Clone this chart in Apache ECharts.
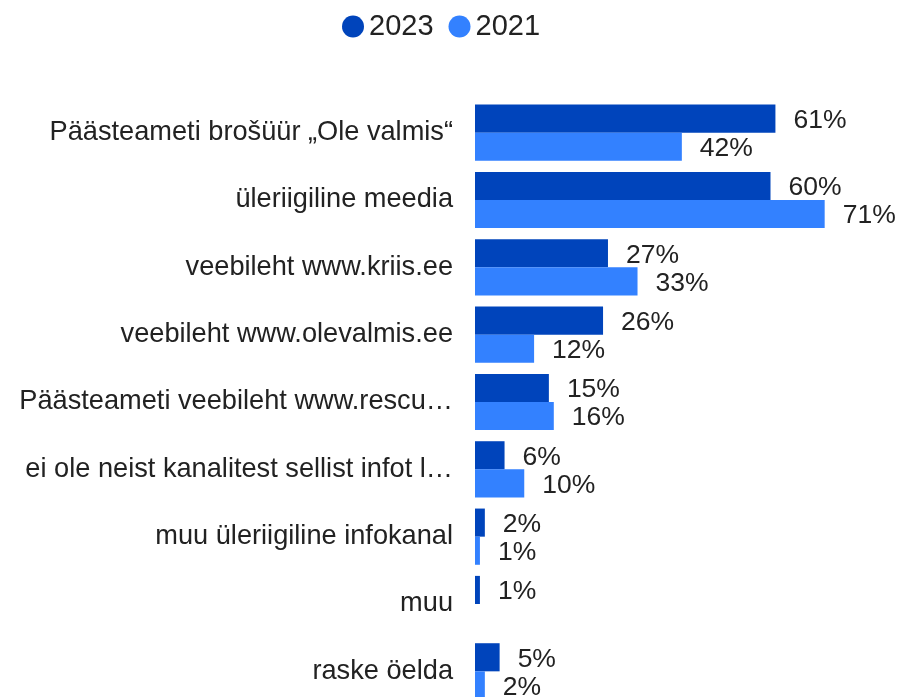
<!DOCTYPE html>
<html>
<head>
<meta charset="utf-8">
<script src="https://cdn.jsdelivr.net/npm/echarts@6/dist/echarts.min.js"></script>
<style>
html,body{margin:0;padding:0;background:#fff;overflow:hidden;}
#chart{width:902px;height:712px;}
</style>
</head>
<body>
<div id="chart"></div>
<script>
const categories = [
  "Päästeameti brošüür „Ole valmis“",
  "üleriigiline meedia",
  "veebileht www.kriis.ee",
  "veebileht www.olevalmis.ee",
  "Päästeameti veebileht www.rescu…",
  "ei ole neist kanalitest sellist infot l…",
  "muu üleriigiline infokanal",
  "muu",
  "raske öelda"
];
const seriesNames = ["2023", "2021"];
const values2023 = [61, 60, 27, 26, 15, 6, 2, 1, 5];
const values2021 = [42, 71, 33, 12, 16, 10, 1, null, 2];

const FONT = "'Liberation Sans', Arial, sans-serif";
const chart = echarts.init(document.getElementById('chart'));
const labelCfg = {
  show: true,
  position: 'right',
  distance: 18,
  offset: [0, 2],
  formatter: '{c}%',
  color: '#222',
  fontSize: 26.5,
  fontFamily: FONT
};
chart.setOption({
  animation: false,
  legend: {
    top: 7,
    left: 337,
    icon: 'circle',
    itemWidth: 22,
    itemHeight: 22,
    itemGap: 15,
    textStyle: { fontSize: 29, color: '#222', fontFamily: FONT },
    data: seriesNames
  },
  grid: { left: 475, top: 99, width: 394, height: 606, containLabel: false },
  xAxis: {
    type: 'value', min: 0, max: 80,
    show: false
  },
  yAxis: {
    type: 'category',
    inverse: true,
    data: categories,
    axisLine: { show: false },
    axisTick: { show: false },
    splitLine: { show: false },
    axisLabel: { margin: 22, fontSize: 27.2, color: '#222', fontFamily: FONT }
  },
  series: [
    {
      name: seriesNames[0], type: 'bar', data: values2023,
      itemStyle: { color: '#0044BB' },
      barGap: '0%', barCategoryGap: '16.5%',
      label: labelCfg
    },
    {
      name: seriesNames[1], type: 'bar', data: values2021,
      itemStyle: { color: '#3381FF' },
      barGap: '0%', barCategoryGap: '16.5%',
      label: labelCfg
    }
  ]
});
</script>
</body>
</html>
